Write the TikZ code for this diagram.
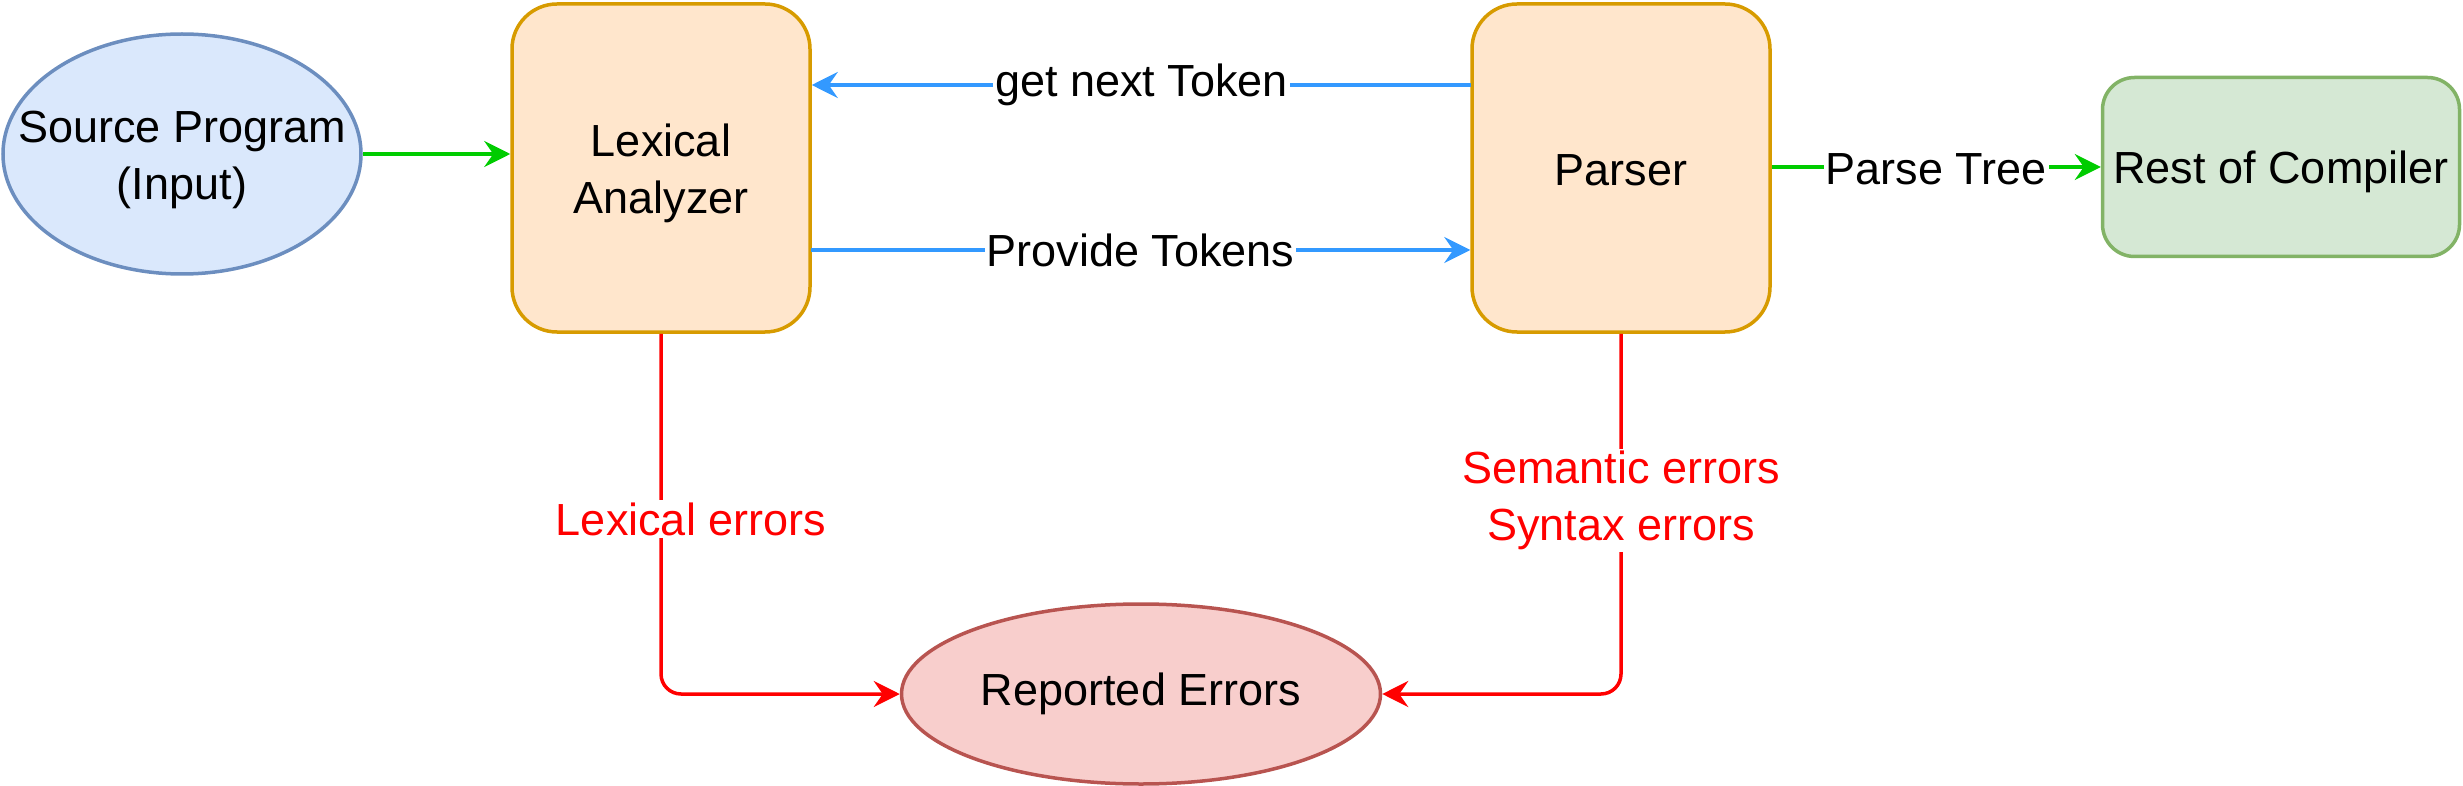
\documentclass[tikz,border=0pt]{standalone}
\usepackage{fontspec}
\setmainfont{Liberation Sans}
\usetikzlibrary{shapes.geometric,arrows.meta}
\definecolor{bluefill}{HTML}{DAE8FC}
\definecolor{bluedraw}{HTML}{6C8EBF}
\definecolor{orfill}{HTML}{FFE6CC}
\definecolor{ordraw}{HTML}{D79B00}
\definecolor{grfill}{HTML}{D5E8D4}
\definecolor{grdraw}{HTML}{82B366}
\definecolor{rdfill}{HTML}{F8CECC}
\definecolor{rddraw}{HTML}{B85450}
\definecolor{arrgreen}{HTML}{00CC00}
\definecolor{arrblue}{HTML}{3399FF}
\definecolor{arrred}{HTML}{FF0000}
\begin{document}
\begin{tikzpicture}[x=1pt,y=-1pt,
  txt/.style={font=\fontsize{45}{57}\selectfont, align=center, text=black},
  srcell/.style={ellipse, draw=bluedraw, fill=bluefill, line width=3.5pt, inner sep=0pt, minimum width=358pt, minimum height=240pt},
  errell/.style={ellipse, draw=rddraw, fill=rdfill, line width=3.5pt, inner sep=0pt, minimum width=479pt, minimum height=180pt},
  procbox/.style={rectangle, rounded corners=45pt, draw=ordraw, fill=orfill, line width=3.5pt, inner sep=0pt, minimum width=298pt, minimum height=328pt, txt},
  restbox/.style={rectangle, rounded corners=32pt, draw=grdraw, fill=grfill, line width=3.5pt, inner sep=0pt, minimum width=357pt, minimum height=179pt, txt},
  conn/.style={line width=3.5pt, -{Stealth[length=26pt,width=26pt,inset=9pt]}},
  lbl/.style={txt, fill=white, inner sep=2pt},
]
\useasboundingbox (0,0) rectangle (2463,786);

\node[srcell] (src) at (182,154) {};
\node[txt] (srctext) at (182,160) {Source Program\\(Input)};
\node[procbox] (lex) at (661,168) {};
\node[txt] (lextext) at (661,173) {Lexical\\Analyzer};
\node[procbox] (par) at (1621,168) {};
\node[txt] (partext) at (1621,170) {Parser};
\node[restbox] (rest) at (2281,167) {};
\node[txt] (resttext) at (2281,172) {Rest of Compiler};
\node[errell] (rep) at (1141,694) {};
\node[txt] (reptext) at (rep.center) {Reported Errors};

\draw[conn, arrgreen] (src.east) -- (src.east -| lex.west);

\coordinate (gnt) at (1471,85);
\draw[conn, arrblue] (gnt) -- (gnt -| lex.east)
  node[lbl, midway] {get next Token};

\coordinate (pvt) at (811,250);
\draw[conn, arrblue] (pvt) -- (pvt -| par.west)
  node[lbl, midway] {Provide Tokens};

\draw[conn, arrgreen] (par.east |- rest.west) -- (rest.west)
  node[lbl, midway, yshift=-2pt] {Parse Tree};

\draw[conn, arrred, rounded corners=20pt] (lex.south) |- (rep.west);
\draw[conn, arrred, rounded corners=20pt] (par.south) |- (rep.east);

\node[lbl, text=arrred] (lexerr) at (691,519) {Lexical errors};
\path (par.south) -- (par.south |- rep.east)
  node[lbl, pos=0.4626, text=arrred] (parerr) {Semantic errors\\Syntax errors};
\end{tikzpicture}
\end{document}
